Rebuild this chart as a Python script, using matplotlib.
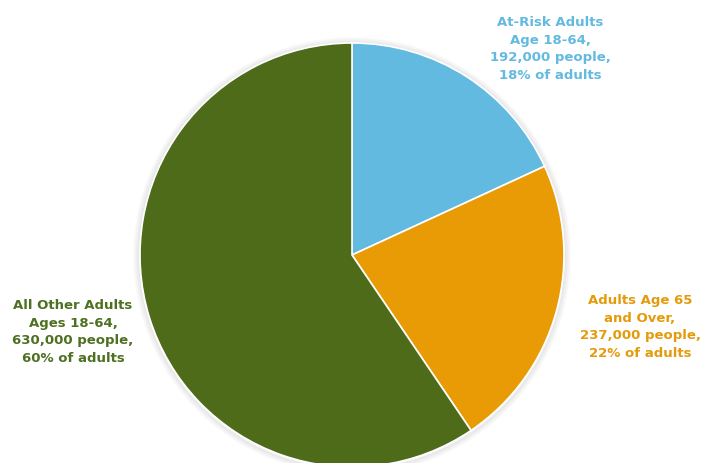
import matplotlib
matplotlib.use("Agg")
import matplotlib.pyplot as plt
from matplotlib.patches import Circle

categories = ["At-Risk Adults\nAge 18-64,\n192,000 people,\n18% of adults",
              "Adults Age 65\nand Over,\n237,000 people,\n22% of adults",
              "All Other Adults\nAges 18-64,\n630,000 people,\n60% of adults"]
people = [192000, 237000, 630000]
colors = ["#63BAE0", "#E89B05", "#4E6B1A"]
label_colors = ["#63BAE0", "#E39B0B", "#4E7021"]

W, H = 704, 464
fig = plt.figure(figsize=(W / 100, H / 100), dpi=100)
ax = fig.add_axes([0, 0, 1, 1])
ax.set_xlim(0, W)
ax.set_ylim(0, H)
ax.set_aspect("equal")
ax.axis("off")

cx, cy, r = 352, H - 256, 212

# soft shadow
for i in range(6):
    ax.add_patch(Circle((cx, cy - 1), r + 1 + i, facecolor="none",
                        edgecolor=(0, 0, 0, 0.06 - 0.009 * i), lw=1.2, zorder=0))

ax.pie(people, colors=colors, startangle=90, counterclock=False,
       center=(cx, cy), radius=r, frame=True,
       wedgeprops=dict(edgecolor="white", linewidth=1.2))
ax.set_xlim(0, W)
ax.set_ylim(0, H)
ax.axis("off")

label_pos = [(550, H - 49), (640, H - 327), (73, H - 332)]
for txt, (x, y), c in zip(categories, label_pos, label_colors):
    ax.text(x, y, txt, ha="center", va="center", color=c, fontsize=9.5,
            fontweight="bold", family="DejaVu Sans", linespacing=1.48)

fig.savefig("out.png", dpi=100)
